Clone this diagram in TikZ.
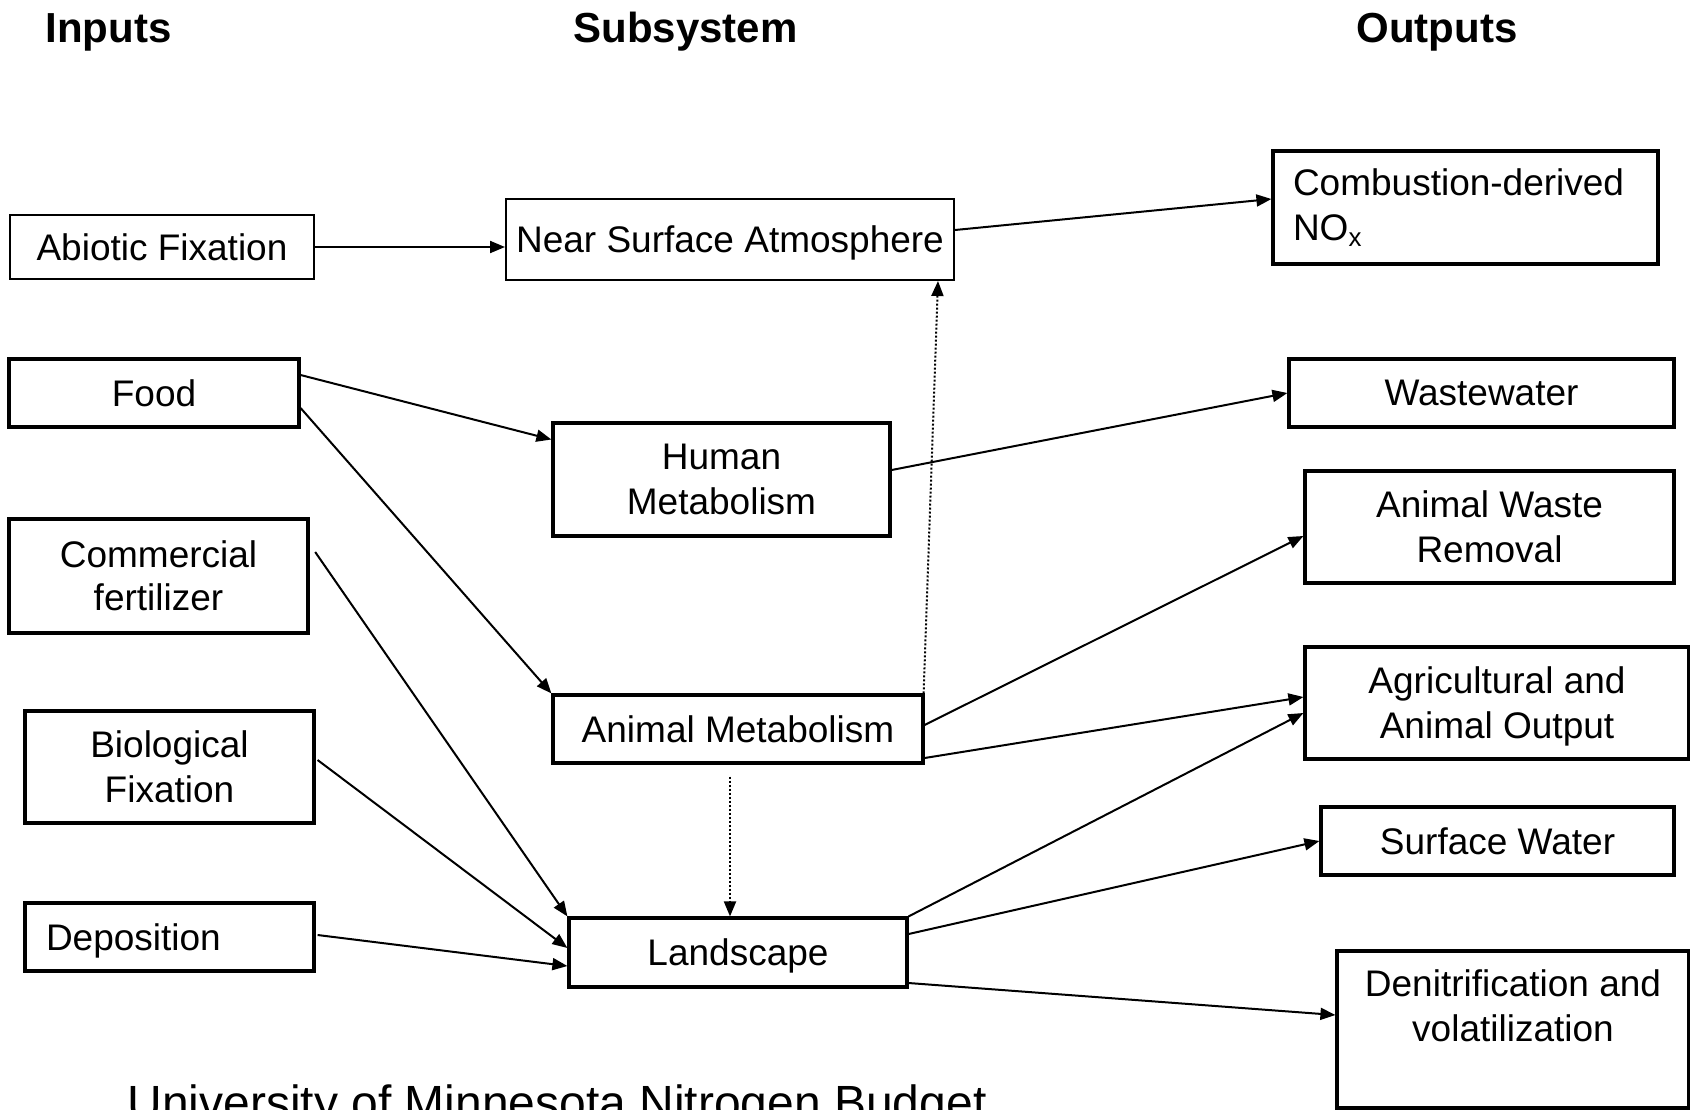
\documentclass[tikz,border=0pt]{standalone}
\usepackage{fontspec}
\setmainfont{Liberation Sans}
\usetikzlibrary{arrows.meta}
\begin{document}
\begin{tikzpicture}[x=0.5pt,y=-0.5pt,
  box/.style={draw, rectangle, inner sep=0pt, align=center, text depth=0pt, font=\fontsize{18.5}{22.5}\selectfont},
  thinbox/.style={box, line width=1pt},
  thickbox/.style={box, line width=1.6pt},
  inbox/.style={thickbox},
  flow/.style={-{Triangle[length=7.5pt,width=6pt]}, line width=1pt},
  dotflow/.style={flow, line width=1pt, dash pattern=on 1pt off 1pt},
  head/.style={font=\fontsize{21}{25}\selectfont\bfseries, anchor=base}]
\clip (0,0) rectangle (1690,1109);
\useasboundingbox (0,0) rectangle (1690,1109);

% headers
\node[head] (hin) at (108.5,42) {Inputs};
\node[head] (hsub) at (685.5,42) {Subsystem};
\node[head] (hout) at (1437,42) {Outputs};

% inputs
\node[thinbox, minimum width=152pt, minimum height=32pt] (abiotic) at (162,247) {Abiotic Fixation};
\node[inbox, minimum width=145pt, minimum height=34pt] (food) at (154,393) {Food};
\node[inbox, minimum width=149.5pt, minimum height=57pt, font=\fontsize{18.5}{21.5}\selectfont] (fert) at (158.5,576) {Commercial\\fertilizer};
\node[inbox, minimum width=144.5pt, minimum height=56pt] (bio) at (169.5,767) {Biological\\Fixation};
\node[inbox, minimum width=144.5pt, minimum height=34pt, inner xsep=10.5pt, text width=123.5pt, align=left] (depo) at (169.5,937) {Deposition};

% subsystem
\node[thinbox, minimum width=224pt, minimum height=40.5pt] (nsa) at (730,239.5) {Near Surface Atmosphere};
\node[thickbox, minimum width=168.5pt, minimum height=56.5pt] (human) at (721.5,479.5) {Human\\Metabolism};
\node[thickbox, minimum width=185pt, minimum height=34pt] (animal) at (738,729) {Animal Metabolism};
\node[thickbox, minimum width=169pt, minimum height=34.5pt] (land) at (738,952.5) {Landscape};

% outputs
\node[thickbox, text depth={}, minimum width=192.5pt, minimum height=56.5pt, inner xsep=10pt, text width=172.5pt, align=left] (comb) at (1465.5,207.5) {Combustion-derived\\NO\textsubscript{x}};
\node[thickbox, minimum width=192.5pt, minimum height=34pt] (waste) at (1481.5,393) {Wastewater};
\node[thickbox, minimum width=184.5pt, minimum height=56pt] (awr) at (1489.5,527) {Animal Waste\\Removal};
\node[thickbox, minimum width=192pt, minimum height=56pt] (agri) at (1497,703) {Agricultural and\\Animal Output};
\node[thickbox, minimum width=176.5pt, minimum height=34pt] (surf) at (1497.5,841) {Surface Water};
\node[thickbox, minimum width=176pt, minimum height=78.5pt] (denit) at (1513,1029.5) {};
\node[align=center, inner sep=0pt, text depth=0pt, font=\fontsize{18.5}{22.5}\selectfont] (denittext) at (1513,1006) {Denitrification and\\volatilization};

% title
\node[anchor=base west, inner sep=0pt, font=\fontsize{24}{28}\selectfont] (title) at (127,1119) {University of Minnesota Nitrogen Budget};

% connectors
\draw[flow] (abiotic.east) -- (abiotic.east -| nsa.west);
\draw[flow] ([yshift=4.75pt]nsa.east) -- ([yshift=4.25pt]comb.west);
\draw[flow] ([yshift=9pt]food.east) -- ([yshift=20pt]human.west);
\draw[flow] ([yshift=-7.5pt]food.east) -- (animal.north west);
\draw[flow] ([xshift=2.8pt,yshift=12pt]fert.east) -- (land.north west);
\draw[flow] ([xshift=1pt,yshift=3.5pt]bio.east) -- ([yshift=2.25pt]land.west);
\draw[flow] ([xshift=1pt,yshift=1pt]depo.east) -- ([yshift=-6.75pt]land.west);
\draw[flow] ([yshift=4.75pt]human.east) -- (waste.west);
\draw[flow] ([yshift=2pt]animal.east) -- ([yshift=-4.5pt]awr.west);
\draw[flow] ([yshift=-14.5pt]animal.east) -- ([yshift=3pt]agri.west);
\draw[flow] (land.north east) -- ([yshift=-5pt]agri.west);
\draw[flow] ([yshift=9.25pt]land.east) -- (surf.west);
\draw[flow] ([yshift=-15.25pt]land.east) -- ([yshift=7.25pt]denit.west);
\draw[dotflow] ([xshift=-0.5pt]animal.north east) -- ([xshift=-8.5pt]nsa.south east);
\draw[dotflow] ([xshift=-4pt,yshift=-6pt]animal.south) -- ([xshift=-4pt]land.north);
\end{tikzpicture}
\end{document}
